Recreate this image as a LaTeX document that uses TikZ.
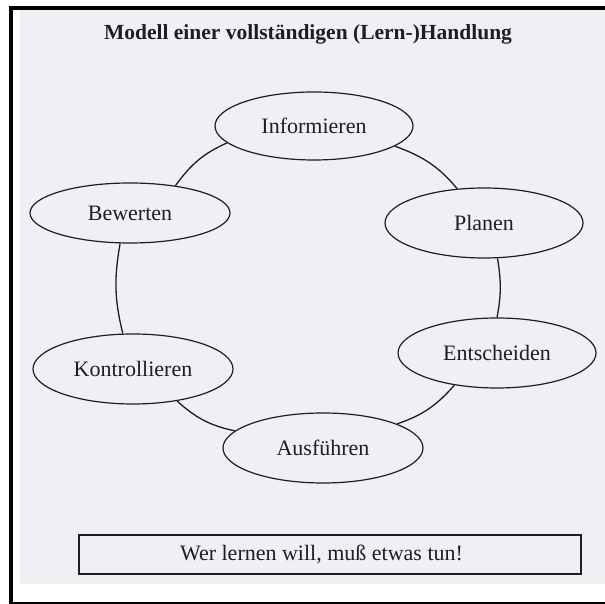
\documentclass[tikz,border=0pt]{standalone}
\usepackage{fontspec}
\setmainfont{Liberation Serif}
\usetikzlibrary{shapes.geometric}
\definecolor{ink}{RGB}{30,30,30}
\definecolor{paper}{RGB}{238,240,244}
\tikzset{
  stage/.style={ellipse, draw=ink, line width=1.2pt, inner sep=0pt,
    text=ink, font=\fontsize{22}{26}\selectfont},
  link/.style={draw=ink, line width=1.3pt},
  mottobox/.style={rectangle, draw=ink, line width=1.1pt, inner sep=0pt,
    minimum width=502pt, minimum height=39pt, text=ink,
    font=\fontsize{22}{26}\selectfont}
}
\begin{document}
\begin{tikzpicture}[x=1pt,y=1pt]
  \useasboundingbox (0,0) rectangle (605,604);
  % sheet and frame
  \fill[white] (0,0) rectangle (605,604);
  \fill[paper] (20,20) rectangle (605,594);
  \fill[black] (9,594) rectangle (605,598);
  \fill[black] (9,0) rectangle (13,598);
  \fill[black] (9,0) rectangle (605,2);

  % heading
  \node[anchor=base, text=ink, font=\fontsize{21.5}{26}\selectfont\bfseries]
    (title) at (308,564) {Modell einer vollständigen (Lern-)Handlung};

  % the six stages of the cycle
  \node[stage, minimum width=198pt, minimum height=68pt] (inf)  at (314,478) {Informieren};
  \node[stage, minimum width=198pt, minimum height=70pt] (plan) at (484,381) {Planen};
  \node[stage, minimum width=198pt, minimum height=70pt] (ent)  at (497,251) {Entscheiden};
  \node[stage, minimum width=200pt, minimum height=70pt] (aus)  at (323,156) {Ausführen};
  \node[stage, minimum width=200pt, minimum height=70pt] (kon)  at (133,235) {Kontrollieren};
  \node[stage, minimum width=200pt, minimum height=60pt] (bew)  at (130,391) {Bewerten};

  % arcs joining the stages
  \draw[link] (inf.-14)  to[out=-20, in=130]  (plan.128);
  \draw[link] (plan.-69) to[out=-81, in=79]   (ent.90);
  \draw[link] (ent.217)  to[out=-131, in=19]  (aus.18);
  \draw[link] (aus.169)  to[out=168, in=-42]  (kon.-36);
  \draw[link] (kon.106)  to[out=104, in=-100] (bew.-108);
  \draw[link] (bew.31)   to[out=54, in=204]   (inf.191);

  % motto
  \node[mottobox] (motto) at (330,49.5) {Wer lernen will, muß etwas tun!\hspace*{17pt}};
\end{tikzpicture}
\end{document}
